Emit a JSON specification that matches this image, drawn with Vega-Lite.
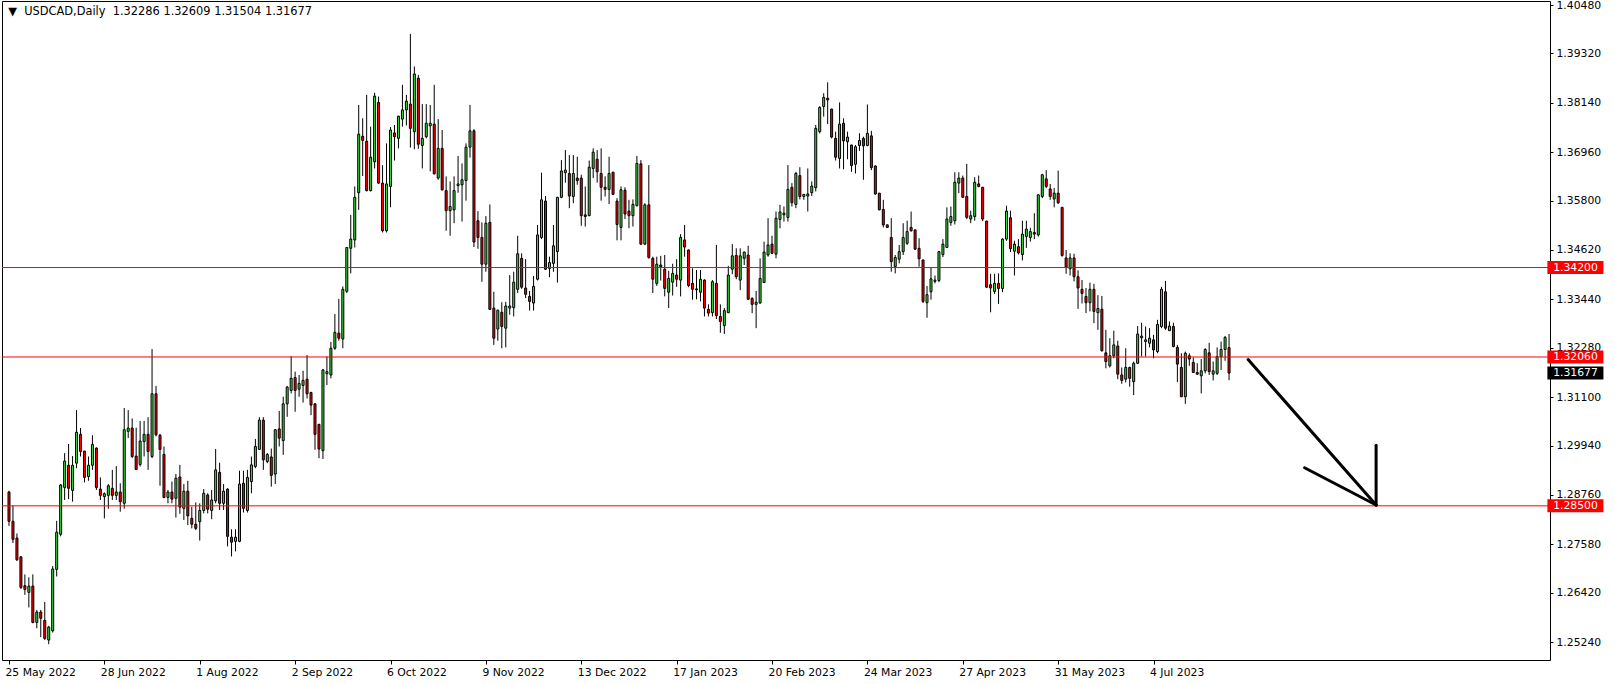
{
  "$schema": "https://vega.github.io/schema/vega-lite/v6.json",
  "autosize": {"type": "none"},
  "padding": {"left": 2, "top": 1, "right": 64, "bottom": 24},
  "width": 1548,
  "height": 659,
  "background": "white",
  "config": {
    "view": {"stroke": "black", "strokeWidth": 1},
    "axis": {"grid": false, "domain": false, "title": null, "labelFont": "DejaVu Sans", "labelFontSize": 10.8, "labelColor": "black", "tickColor": "black", "tickWidth": 1}
  },
  "datasets": {
    "k": [
{"i":0,"o":1.2883,"h":1.2886,"l":1.2802,"c":1.2813},
{"i":1,"o":1.2813,"h":1.2851,"l":1.2761,"c":1.2770},
{"i":2,"o":1.2773,"h":1.2784,"l":1.2718,"c":1.2721},
{"i":3,"o":1.2728,"h":1.2729,"l":1.2651,"c":1.2655},
{"i":4,"o":1.2659,"h":1.2686,"l":1.2637,"c":1.2650},
{"i":5,"o":1.2643,"h":1.2679,"l":1.2607,"c":1.2658},
{"i":6,"o":1.2658,"h":1.2686,"l":1.2569,"c":1.2571},
{"i":7,"o":1.2571,"h":1.2601,"l":1.2557,"c":1.2596},
{"i":8,"o":1.2596,"h":1.2601,"l":1.2536,"c":1.2581},
{"i":9,"o":1.2576,"h":1.2620,"l":1.2529,"c":1.2533},
{"i":10,"o":1.2529,"h":1.2563,"l":1.2519,"c":1.2560},
{"i":11,"o":1.2551,"h":1.2706,"l":1.2547,"c":1.2699},
{"i":12,"o":1.2698,"h":1.2814,"l":1.2681,"c":1.2787},
{"i":13,"o":1.2782,"h":1.2902,"l":1.2777,"c":1.2900},
{"i":14,"o":1.2894,"h":1.2976,"l":1.2864,"c":1.2957},
{"i":15,"o":1.2947,"h":1.2998,"l":1.2866,"c":1.2892},
{"i":16,"o":1.2887,"h":1.2969,"l":1.2860,"c":1.2947},
{"i":17,"o":1.2952,"h":1.3079,"l":1.2940,"c":1.3026},
{"i":18,"o":1.3021,"h":1.3036,"l":1.2968,"c":1.2980},
{"i":19,"o":1.2981,"h":1.2981,"l":1.2906,"c":1.2918},
{"i":20,"o":1.2920,"h":1.2968,"l":1.2910,"c":1.2947},
{"i":21,"o":1.2947,"h":1.3019,"l":1.2936,"c":1.2997},
{"i":22,"o":1.2988,"h":1.2990,"l":1.2888,"c":1.2894},
{"i":23,"o":1.2890,"h":1.2918,"l":1.2864,"c":1.2875},
{"i":24,"o":1.2872,"h":1.2882,"l":1.2820,"c":1.2879},
{"i":25,"o":1.2875,"h":1.2902,"l":1.2843,"c":1.2898},
{"i":26,"o":1.2892,"h":1.2936,"l":1.2864,"c":1.2875},
{"i":27,"o":1.2875,"h":1.2945,"l":1.2864,"c":1.2883},
{"i":28,"o":1.2883,"h":1.2904,"l":1.2836,"c":1.2860},
{"i":29,"o":1.2856,"h":1.3084,"l":1.2843,"c":1.3032},
{"i":30,"o":1.3028,"h":1.3079,"l":1.3012,"c":1.3036},
{"i":31,"o":1.3036,"h":1.3059,"l":1.2964,"c":1.2968},
{"i":32,"o":1.2969,"h":1.3037,"l":1.2936,"c":1.2937},
{"i":33,"o":1.2949,"h":1.3053,"l":1.2944,"c":1.3005},
{"i":34,"o":1.3004,"h":1.3053,"l":1.2968,"c":1.3021},
{"i":35,"o":1.3021,"h":1.3062,"l":1.2936,"c":1.2980},
{"i":36,"o":1.2968,"h":1.3225,"l":1.2964,"c":1.3118},
{"i":37,"o":1.3118,"h":1.3137,"l":1.3016,"c":1.3020},
{"i":38,"o":1.3019,"h":1.3022,"l":1.2898,"c":1.2985},
{"i":39,"o":1.2973,"h":1.2992,"l":1.2868,"c":1.2870},
{"i":40,"o":1.2870,"h":1.2888,"l":1.2856,"c":1.2883},
{"i":41,"o":1.2883,"h":1.2908,"l":1.2856,"c":1.2866},
{"i":42,"o":1.2868,"h":1.2926,"l":1.2822,"c":1.2916},
{"i":43,"o":1.2919,"h":1.2948,"l":1.2831,"c":1.2847},
{"i":44,"o":1.2844,"h":1.2902,"l":1.2816,"c":1.2885},
{"i":45,"o":1.2885,"h":1.2910,"l":1.2804,"c":1.2826},
{"i":46,"o":1.2820,"h":1.2848,"l":1.2796,"c":1.2806},
{"i":47,"o":1.2806,"h":1.2858,"l":1.2792,"c":1.2796},
{"i":48,"o":1.2812,"h":1.2856,"l":1.2767,"c":1.2839},
{"i":49,"o":1.2839,"h":1.2890,"l":1.2832,"c":1.2880},
{"i":50,"o":1.2876,"h":1.2880,"l":1.2832,"c":1.2842},
{"i":51,"o":1.2839,"h":1.2888,"l":1.2818,"c":1.2864},
{"i":52,"o":1.2862,"h":1.2986,"l":1.2856,"c":1.2936},
{"i":53,"o":1.2930,"h":1.2953,"l":1.2840,"c":1.2856},
{"i":54,"o":1.2856,"h":1.2902,"l":1.2840,"c":1.2885},
{"i":55,"o":1.2890,"h":1.2892,"l":1.2753,"c":1.2777},
{"i":56,"o":1.2775,"h":1.2794,"l":1.2729,"c":1.2763},
{"i":57,"o":1.2765,"h":1.2794,"l":1.2741,"c":1.2775},
{"i":58,"o":1.2765,"h":1.2934,"l":1.2763,"c":1.2902},
{"i":59,"o":1.2904,"h":1.2934,"l":1.2834,"c":1.2844},
{"i":60,"o":1.2839,"h":1.2936,"l":1.2834,"c":1.2918},
{"i":61,"o":1.2908,"h":1.2968,"l":1.2880,"c":1.2948},
{"i":62,"o":1.2944,"h":1.3010,"l":1.2940,"c":1.2992},
{"i":63,"o":1.2985,"h":1.3062,"l":1.2984,"c":1.3055},
{"i":64,"o":1.3055,"h":1.3062,"l":1.2936,"c":1.2960},
{"i":65,"o":1.2956,"h":1.2976,"l":1.2952,"c":1.2973},
{"i":66,"o":1.2967,"h":1.2987,"l":1.2896,"c":1.2923},
{"i":67,"o":1.2926,"h":1.3033,"l":1.2902,"c":1.3032},
{"i":68,"o":1.3034,"h":1.3077,"l":1.2992,"c":1.3012},
{"i":69,"o":1.3006,"h":1.3111,"l":1.2972,"c":1.3094},
{"i":70,"o":1.3094,"h":1.3137,"l":1.3063,"c":1.3134},
{"i":71,"o":1.3126,"h":1.3208,"l":1.3119,"c":1.3155},
{"i":72,"o":1.3157,"h":1.3171,"l":1.3075,"c":1.3126},
{"i":73,"o":1.3129,"h":1.3163,"l":1.3111,"c":1.3143},
{"i":74,"o":1.3138,"h":1.3173,"l":1.3097,"c":1.3150},
{"i":75,"o":1.3153,"h":1.3211,"l":1.3107,"c":1.3118},
{"i":76,"o":1.3121,"h":1.3123,"l":1.3067,"c":1.3091},
{"i":77,"o":1.3094,"h":1.3095,"l":1.2984,"c":1.3021},
{"i":78,"o":1.3045,"h":1.3046,"l":1.2964,"c":1.2986},
{"i":79,"o":1.2982,"h":1.3177,"l":1.2962,"c":1.3175},
{"i":80,"o":1.3166,"h":1.3207,"l":1.3139,"c":1.3171},
{"i":81,"o":1.3163,"h":1.3242,"l":1.3155,"c":1.3227},
{"i":82,"o":1.3227,"h":1.3309,"l":1.3223,"c":1.3265},
{"i":83,"o":1.3263,"h":1.3345,"l":1.3245,"c":1.3251},
{"i":84,"o":1.3249,"h":1.3375,"l":1.3227,"c":1.3368},
{"i":85,"o":1.3363,"h":1.3468,"l":1.3359,"c":1.3468},
{"i":86,"o":1.3466,"h":1.3546,"l":1.3406,"c":1.3488},
{"i":87,"o":1.3486,"h":1.3614,"l":1.3468,"c":1.3588},
{"i":88,"o":1.3599,"h":1.3809,"l":1.3558,"c":1.3739},
{"i":89,"o":1.3734,"h":1.3777,"l":1.3639,"c":1.3724},
{"i":90,"o":1.3722,"h":1.3833,"l":1.3602,"c":1.3604},
{"i":91,"o":1.3604,"h":1.3757,"l":1.3602,"c":1.3684},
{"i":92,"o":1.3673,"h":1.3838,"l":1.3657,"c":1.3830},
{"i":93,"o":1.3815,"h":1.3829,"l":1.3620,"c":1.3622},
{"i":94,"o":1.3622,"h":1.3665,"l":1.3504,"c":1.3508},
{"i":95,"o":1.3508,"h":1.3717,"l":1.3504,"c":1.3620},
{"i":96,"o":1.3614,"h":1.3756,"l":1.3564,"c":1.3749},
{"i":97,"o":1.3742,"h":1.3761,"l":1.3676,"c":1.3733},
{"i":98,"o":1.3729,"h":1.3783,"l":1.3705,"c":1.3782},
{"i":99,"o":1.3775,"h":1.3857,"l":1.3757,"c":1.3797},
{"i":100,"o":1.3797,"h":1.3833,"l":1.3760,"c":1.3818},
{"i":101,"o":1.3811,"h":1.3979,"l":1.3707,"c":1.3753},
{"i":102,"o":1.3745,"h":1.3901,"l":1.3703,"c":1.3883},
{"i":103,"o":1.3873,"h":1.3881,"l":1.3704,"c":1.3715},
{"i":104,"o":1.3712,"h":1.3811,"l":1.3657,"c":1.3729},
{"i":105,"o":1.3733,"h":1.3811,"l":1.3729,"c":1.3765},
{"i":106,"o":1.3759,"h":1.3809,"l":1.3650,"c":1.3765},
{"i":107,"o":1.3763,"h":1.3857,"l":1.3643,"c":1.3644},
{"i":108,"o":1.3634,"h":1.3775,"l":1.3630,"c":1.3705},
{"i":109,"o":1.3705,"h":1.3749,"l":1.3604,"c":1.3606},
{"i":110,"o":1.3604,"h":1.3638,"l":1.3508,"c":1.3556},
{"i":111,"o":1.3556,"h":1.3626,"l":1.3496,"c":1.3566},
{"i":112,"o":1.3558,"h":1.3638,"l":1.3526,"c":1.3604},
{"i":113,"o":1.3616,"h":1.3687,"l":1.3599,"c":1.3620},
{"i":114,"o":1.3618,"h":1.3669,"l":1.3530,"c":1.3630},
{"i":115,"o":1.3628,"h":1.3717,"l":1.3580,"c":1.3708},
{"i":116,"o":1.3708,"h":1.3809,"l":1.3683,"c":1.3747},
{"i":117,"o":1.3747,"h":1.3751,"l":1.3469,"c":1.3481},
{"i":118,"o":1.3532,"h":1.3555,"l":1.3465,"c":1.3492},
{"i":119,"o":1.3492,"h":1.3528,"l":1.3386,"c":1.3428},
{"i":120,"o":1.3428,"h":1.3543,"l":1.3410,"c":1.3526},
{"i":121,"o":1.3528,"h":1.3571,"l":1.3319,"c":1.3320},
{"i":122,"o":1.3323,"h":1.3362,"l":1.3235,"c":1.3251},
{"i":123,"o":1.3273,"h":1.3319,"l":1.3245,"c":1.3318},
{"i":124,"o":1.3313,"h":1.3337,"l":1.3227,"c":1.3279},
{"i":125,"o":1.3275,"h":1.3338,"l":1.3229,"c":1.3328},
{"i":126,"o":1.3323,"h":1.3402,"l":1.3307,"c":1.3328},
{"i":127,"o":1.3324,"h":1.3410,"l":1.3303,"c":1.3385},
{"i":128,"o":1.3368,"h":1.3496,"l":1.3359,"c":1.3453},
{"i":129,"o":1.3442,"h":1.3454,"l":1.3369,"c":1.3373},
{"i":130,"o":1.3371,"h":1.3440,"l":1.3347,"c":1.3356},
{"i":131,"o":1.3351,"h":1.3364,"l":1.3317,"c":1.3339},
{"i":132,"o":1.3335,"h":1.3400,"l":1.3317,"c":1.3375},
{"i":133,"o":1.3392,"h":1.3522,"l":1.3389,"c":1.3498},
{"i":134,"o":1.3492,"h":1.3647,"l":1.3488,"c":1.3582},
{"i":135,"o":1.3579,"h":1.3591,"l":1.3414,"c":1.3416},
{"i":136,"o":1.3418,"h":1.3446,"l":1.3397,"c":1.3432},
{"i":137,"o":1.3430,"h":1.3522,"l":1.3410,"c":1.3472},
{"i":138,"o":1.3458,"h":1.3589,"l":1.3384,"c":1.3588},
{"i":139,"o":1.3588,"h":1.3677,"l":1.3586,"c":1.3651},
{"i":140,"o":1.3647,"h":1.3701,"l":1.3623,"c":1.3653},
{"i":141,"o":1.3645,"h":1.3689,"l":1.3562,"c":1.3591},
{"i":142,"o":1.3590,"h":1.3689,"l":1.3574,"c":1.3645},
{"i":143,"o":1.3634,"h":1.3685,"l":1.3618,"c":1.3628},
{"i":144,"o":1.3634,"h":1.3642,"l":1.3520,"c":1.3544},
{"i":145,"o":1.3546,"h":1.3614,"l":1.3518,"c":1.3542},
{"i":146,"o":1.3544,"h":1.3676,"l":1.3543,"c":1.3660},
{"i":147,"o":1.3657,"h":1.3705,"l":1.3634,"c":1.3696},
{"i":148,"o":1.3679,"h":1.3701,"l":1.3623,"c":1.3649},
{"i":149,"o":1.3645,"h":1.3705,"l":1.3580,"c":1.3612},
{"i":150,"o":1.3612,"h":1.3638,"l":1.3590,"c":1.3607},
{"i":151,"o":1.3607,"h":1.3685,"l":1.3572,"c":1.3645},
{"i":152,"o":1.3648,"h":1.3649,"l":1.3594,"c":1.3595},
{"i":153,"o":1.3579,"h":1.3586,"l":1.3485,"c":1.3523},
{"i":154,"o":1.3516,"h":1.3614,"l":1.3485,"c":1.3606},
{"i":155,"o":1.3605,"h":1.3612,"l":1.3536,"c":1.3548},
{"i":156,"o":1.3555,"h":1.3582,"l":1.3514,"c":1.3544},
{"i":157,"o":1.3544,"h":1.3583,"l":1.3518,"c":1.3571},
{"i":158,"o":1.3568,"h":1.3687,"l":1.3566,"c":1.3669},
{"i":159,"o":1.3668,"h":1.3677,"l":1.3474,"c":1.3476},
{"i":160,"o":1.3476,"h":1.3574,"l":1.3474,"c":1.3570},
{"i":161,"o":1.3570,"h":1.3665,"l":1.3441,"c":1.3444},
{"i":162,"o":1.3442,"h":1.3446,"l":1.3359,"c":1.3392},
{"i":163,"o":1.3382,"h":1.3446,"l":1.3376,"c":1.3428},
{"i":164,"o":1.3426,"h":1.3448,"l":1.3389,"c":1.3422},
{"i":165,"o":1.3416,"h":1.3450,"l":1.3351,"c":1.3370},
{"i":166,"o":1.3361,"h":1.3412,"l":1.3323,"c":1.3394},
{"i":167,"o":1.3385,"h":1.3429,"l":1.3353,"c":1.3406},
{"i":168,"o":1.3402,"h":1.3440,"l":1.3374,"c":1.3392},
{"i":169,"o":1.3390,"h":1.3500,"l":1.3351,"c":1.3492},
{"i":170,"o":1.3486,"h":1.3522,"l":1.3446,"c":1.3469},
{"i":171,"o":1.3462,"h":1.3463,"l":1.3373,"c":1.3377},
{"i":172,"o":1.3382,"h":1.3418,"l":1.3343,"c":1.3368},
{"i":173,"o":1.3369,"h":1.3414,"l":1.3344,"c":1.3367},
{"i":174,"o":1.3361,"h":1.3414,"l":1.3339,"c":1.3392},
{"i":175,"o":1.3390,"h":1.3392,"l":1.3303,"c":1.3323},
{"i":176,"o":1.3320,"h":1.3332,"l":1.3303,"c":1.3311},
{"i":177,"o":1.3312,"h":1.3390,"l":1.3303,"c":1.3386},
{"i":178,"o":1.3382,"h":1.3474,"l":1.3297,"c":1.3305},
{"i":179,"o":1.3303,"h":1.3332,"l":1.3264,"c":1.3291},
{"i":180,"o":1.3281,"h":1.3323,"l":1.3261,"c":1.3317},
{"i":181,"o":1.3312,"h":1.3424,"l":1.3311,"c":1.3402},
{"i":182,"o":1.3416,"h":1.3476,"l":1.3404,"c":1.3448},
{"i":183,"o":1.3449,"h":1.3466,"l":1.3392,"c":1.3398},
{"i":184,"o":1.3390,"h":1.3466,"l":1.3366,"c":1.3448},
{"i":185,"o":1.3442,"h":1.3458,"l":1.3426,"c":1.3457},
{"i":186,"o":1.3450,"h":1.3472,"l":1.3343,"c":1.3344},
{"i":187,"o":1.3346,"h":1.3349,"l":1.3311,"c":1.3332},
{"i":188,"o":1.3332,"h":1.3364,"l":1.3275,"c":1.3337},
{"i":189,"o":1.3335,"h":1.3442,"l":1.3334,"c":1.3394},
{"i":190,"o":1.3384,"h":1.3482,"l":1.3383,"c":1.3457},
{"i":191,"o":1.3450,"h":1.3538,"l":1.3446,"c":1.3474},
{"i":192,"o":1.3476,"h":1.3496,"l":1.3452,"c":1.3454},
{"i":193,"o":1.3452,"h":1.3554,"l":1.3442,"c":1.3538},
{"i":194,"o":1.3535,"h":1.3570,"l":1.3514,"c":1.3553},
{"i":195,"o":1.3546,"h":1.3566,"l":1.3530,"c":1.3550},
{"i":196,"o":1.3540,"h":1.3665,"l":1.3530,"c":1.3607},
{"i":197,"o":1.3612,"h":1.3622,"l":1.3566,"c":1.3575},
{"i":198,"o":1.3571,"h":1.3649,"l":1.3562,"c":1.3645},
{"i":199,"o":1.3640,"h":1.3660,"l":1.3583,"c":1.3590},
{"i":200,"o":1.3590,"h":1.3596,"l":1.3582,"c":1.3595},
{"i":201,"o":1.3591,"h":1.3657,"l":1.3554,"c":1.3596},
{"i":202,"o":1.3599,"h":1.3626,"l":1.3591,"c":1.3615},
{"i":203,"o":1.3611,"h":1.3761,"l":1.3602,"c":1.3753},
{"i":204,"o":1.3745,"h":1.3806,"l":1.3741,"c":1.3803},
{"i":205,"o":1.3805,"h":1.3837,"l":1.3781,"c":1.3827},
{"i":206,"o":1.3825,"h":1.3863,"l":1.3763,"c":1.3821},
{"i":207,"o":1.3799,"h":1.3800,"l":1.3729,"c":1.3732},
{"i":208,"o":1.3729,"h":1.3745,"l":1.3676,"c":1.3684},
{"i":209,"o":1.3681,"h":1.3815,"l":1.3657,"c":1.3763},
{"i":210,"o":1.3765,"h":1.3777,"l":1.3655,"c":1.3723},
{"i":211,"o":1.3721,"h":1.3745,"l":1.3679,"c":1.3732},
{"i":212,"o":1.3713,"h":1.3714,"l":1.3649,"c":1.3664},
{"i":213,"o":1.3667,"h":1.3713,"l":1.3645,"c":1.3709},
{"i":214,"o":1.3712,"h":1.3741,"l":1.3699,"c":1.3724},
{"i":215,"o":1.3729,"h":1.3733,"l":1.3630,"c":1.3711},
{"i":216,"o":1.3712,"h":1.3810,"l":1.3710,"c":1.3741},
{"i":217,"o":1.3735,"h":1.3747,"l":1.3653,"c":1.3659},
{"i":218,"o":1.3663,"h":1.3664,"l":1.3594,"c":1.3596},
{"i":219,"o":1.3598,"h":1.3598,"l":1.3557,"c":1.3558},
{"i":220,"o":1.3559,"h":1.3582,"l":1.3516,"c":1.3522},
{"i":221,"o":1.3522,"h":1.3523,"l":1.3515,"c":1.3516},
{"i":222,"o":1.3492,"h":1.3538,"l":1.3410,"c":1.3434},
{"i":223,"o":1.3422,"h":1.3450,"l":1.3406,"c":1.3444},
{"i":224,"o":1.3440,"h":1.3474,"l":1.3430,"c":1.3458},
{"i":225,"o":1.3458,"h":1.3526,"l":1.3450,"c":1.3492},
{"i":226,"o":1.3478,"h":1.3532,"l":1.3474,"c":1.3506},
{"i":227,"o":1.3516,"h":1.3554,"l":1.3506,"c":1.3508},
{"i":228,"o":1.3510,"h":1.3511,"l":1.3462,"c":1.3464},
{"i":229,"o":1.3466,"h":1.3490,"l":1.3422,"c":1.3441},
{"i":230,"o":1.3438,"h":1.3439,"l":1.3335,"c":1.3339},
{"i":231,"o":1.3336,"h":1.3376,"l":1.3300,"c":1.3355},
{"i":232,"o":1.3362,"h":1.3421,"l":1.3343,"c":1.3393},
{"i":233,"o":1.3387,"h":1.3401,"l":1.3382,"c":1.3390},
{"i":234,"o":1.3389,"h":1.3460,"l":1.3385,"c":1.3458},
{"i":235,"o":1.3451,"h":1.3488,"l":1.3445,"c":1.3476},
{"i":236,"o":1.3468,"h":1.3564,"l":1.3467,"c":1.3536},
{"i":237,"o":1.3528,"h":1.3566,"l":1.3520,"c":1.3542},
{"i":238,"o":1.3532,"h":1.3648,"l":1.3523,"c":1.3624},
{"i":239,"o":1.3622,"h":1.3648,"l":1.3598,"c":1.3634},
{"i":240,"o":1.3634,"h":1.3640,"l":1.3587,"c":1.3588},
{"i":241,"o":1.3590,"h":1.3668,"l":1.3536,"c":1.3540},
{"i":242,"o":1.3536,"h":1.3556,"l":1.3526,"c":1.3544},
{"i":243,"o":1.3542,"h":1.3636,"l":1.3532,"c":1.3624},
{"i":244,"o":1.3620,"h":1.3640,"l":1.3612,"c":1.3614},
{"i":245,"o":1.3612,"h":1.3613,"l":1.3531,"c":1.3536},
{"i":246,"o":1.3531,"h":1.3532,"l":1.3371,"c":1.3373},
{"i":247,"o":1.3379,"h":1.3405,"l":1.3313,"c":1.3371},
{"i":248,"o":1.3363,"h":1.3405,"l":1.3357,"c":1.3382},
{"i":249,"o":1.3382,"h":1.3406,"l":1.3333,"c":1.3370},
{"i":250,"o":1.3370,"h":1.3490,"l":1.3361,"c":1.3488},
{"i":251,"o":1.3488,"h":1.3568,"l":1.3484,"c":1.3555},
{"i":252,"o":1.3539,"h":1.3556,"l":1.3457,"c":1.3465},
{"i":253,"o":1.3459,"h":1.3484,"l":1.3401,"c":1.3476},
{"i":254,"o":1.3470,"h":1.3488,"l":1.3451,"c":1.3455},
{"i":255,"o":1.3451,"h":1.3532,"l":1.3437,"c":1.3500},
{"i":256,"o":1.3494,"h":1.3532,"l":1.3467,"c":1.3512},
{"i":257,"o":1.3492,"h":1.3515,"l":1.3482,"c":1.3506},
{"i":258,"o":1.3504,"h":1.3550,"l":1.3488,"c":1.3500},
{"i":259,"o":1.3498,"h":1.3595,"l":1.3494,"c":1.3594},
{"i":260,"o":1.3590,"h":1.3644,"l":1.3586,"c":1.3642},
{"i":261,"o":1.3632,"h":1.3653,"l":1.3610,"c":1.3614},
{"i":262,"o":1.3608,"h":1.3620,"l":1.3582,"c":1.3590},
{"i":263,"o":1.3584,"h":1.3610,"l":1.3564,"c":1.3598},
{"i":264,"o":1.3598,"h":1.3652,"l":1.3572,"c":1.3575},
{"i":265,"o":1.3564,"h":1.3565,"l":1.3446,"c":1.3449},
{"i":266,"o":1.3443,"h":1.3462,"l":1.3405,"c":1.3421},
{"i":267,"o":1.3417,"h":1.3454,"l":1.3401,"c":1.3443},
{"i":268,"o":1.3443,"h":1.3453,"l":1.3387,"c":1.3398},
{"i":269,"o":1.3398,"h":1.3413,"l":1.3321,"c":1.3371},
{"i":270,"o":1.3368,"h":1.3390,"l":1.3334,"c":1.3358},
{"i":271,"o":1.3351,"h":1.3371,"l":1.3311,"c":1.3336},
{"i":272,"o":1.3336,"h":1.3384,"l":1.3315,"c":1.3368},
{"i":273,"o":1.3368,"h":1.3381,"l":1.3287,"c":1.3315},
{"i":274,"o":1.3312,"h":1.3354,"l":1.3271,"c":1.3322},
{"i":275,"o":1.3320,"h":1.3352,"l":1.3219,"c":1.3221},
{"i":276,"o":1.3216,"h":1.3271,"l":1.3179,"c":1.3195},
{"i":277,"o":1.3185,"h":1.3251,"l":1.3181,"c":1.3209},
{"i":278,"o":1.3209,"h":1.3269,"l":1.3203,"c":1.3235},
{"i":279,"o":1.3232,"h":1.3245,"l":1.3153,"c":1.3165},
{"i":280,"o":1.3163,"h":1.3181,"l":1.3142,"c":1.3150},
{"i":281,"o":1.3153,"h":1.3227,"l":1.3145,"c":1.3181},
{"i":282,"o":1.3181,"h":1.3183,"l":1.3135,"c":1.3155},
{"i":283,"o":1.3147,"h":1.3195,"l":1.3115,"c":1.3191},
{"i":284,"o":1.3191,"h":1.3280,"l":1.3189,"c":1.3261},
{"i":285,"o":1.3252,"h":1.3288,"l":1.3207,"c":1.3256},
{"i":286,"o":1.3243,"h":1.3279,"l":1.3207,"c":1.3247},
{"i":287,"o":1.3239,"h":1.3275,"l":1.3229,"c":1.3251},
{"i":288,"o":1.3247,"h":1.3259,"l":1.3203,"c":1.3223},
{"i":289,"o":1.3219,"h":1.3295,"l":1.3215,"c":1.3284},
{"i":290,"o":1.3279,"h":1.3374,"l":1.3275,"c":1.3368},
{"i":291,"o":1.3362,"h":1.3388,"l":1.3271,"c":1.3275},
{"i":292,"o":1.3269,"h":1.3291,"l":1.3268,"c":1.3280},
{"i":293,"o":1.3279,"h":1.3288,"l":1.3229,"c":1.3231},
{"i":294,"o":1.3229,"h":1.3235,"l":1.3146,"c":1.3189},
{"i":295,"o":1.3181,"h":1.3215,"l":1.3110,"c":1.3111},
{"i":296,"o":1.3111,"h":1.3219,"l":1.3094,"c":1.3215},
{"i":297,"o":1.3209,"h":1.3215,"l":1.3185,"c":1.3201},
{"i":298,"o":1.3193,"h":1.3205,"l":1.3169,"c":1.3169},
{"i":299,"o":1.3169,"h":1.3191,"l":1.3163,"c":1.3165},
{"i":300,"o":1.3161,"h":1.3201,"l":1.3119,"c":1.3173},
{"i":301,"o":1.3173,"h":1.3227,"l":1.3167,"c":1.3224},
{"i":302,"o":1.3216,"h":1.3240,"l":1.3163,"c":1.3171},
{"i":303,"o":1.3165,"h":1.3195,"l":1.3150,"c":1.3173},
{"i":304,"o":1.3167,"h":1.3229,"l":1.3163,"c":1.3207},
{"i":305,"o":1.3207,"h":1.3243,"l":1.3175,"c":1.3224},
{"i":306,"o":1.3224,"h":1.3256,"l":1.3197,"c":1.3253},
{"i":307,"o":1.32286,"h":1.32609,"l":1.31504,"c":1.31677}
    ],
    "lv": [
      {"p": 1.342, "t": "1.34200", "k": "level"},
      {"p": 1.3206, "t": "1.32060", "k": "level"},
      {"p": 1.285, "t": "1.28500", "k": "level"},
      {"p": 1.31677, "t": "1.31677", "k": "bid"}
    ],
    "ar": [
      {"x": 311.8, "y": 1.3200, "x2": 344.0, "y2": 1.2852},
      {"x": 344.0, "y": 1.2995, "x2": 344.0, "y2": 1.2852},
      {"x": 326.0, "y": 1.2941, "x2": 344.0, "y2": 1.2852}
    ],
    "hd": [
      {"t": "▼\u00a0\u00a0USDCAD,Daily\u00a0\u00a01.32286 1.32609 1.31504 1.31677"}
    ]
  },
  "layer": [
    {
      "data": {"name": "k"},
      "mark": {"type": "rule", "color": "black", "strokeWidth": 1},
      "encoding": {
        "x": {"field": "i", "type": "quantitative",
              "scale": {"domain": [-0.5, 386.5], "nice": false, "zero": false},
              "axis": {"orient": "bottom", "values": [0,24,48,72,96,120,144,168,192,216,240,264,288],
                       "labelExpr": "['25 May 2022','28 Jun 2022','1 Aug 2022','2 Sep 2022','6 Oct 2022','9 Nov 2022','13 Dec 2022','17 Jan 2023','20 Feb 2023','24 Mar 2023','27 Apr 2023','31 May 2023','4 Jul 2023'][round(datum.value/24)]",
                       "labelAlign": "left", "labelBaseline": "top", "labelPadding": 2, "labelOffset": -4, "tickSize": 4, "labelFlush": false, "labelOverlap": false, "labelBound": false}},
        "y": {"field": "l", "type": "quantitative",
              "scale": {"domain": [1.248124, 1.405757], "nice": false, "zero": false},
              "axis": {"orient": "right", "values": [1.4048,1.3932,1.3814,1.3696,1.358,1.3462,1.3344,1.3228,1.311,1.2994,1.2876,1.2758,1.2642,1.2524],
                       "format": ".5f", "tickSize": 3, "labelPadding": 3, "labelBaseline": "middle", "labelAlign": "left", "labelOverlap": false, "labelFlush": false, "labelBound": false}},
        "y2": {"field": "h"}
      }
    },
    {
      "data": {"name": "k"},
      "mark": {"type": "bar", "width": 2, "stroke": "black", "strokeWidth": 1},
      "encoding": {
        "x": {"field": "i", "type": "quantitative"},
        "y": {"field": "o", "type": "quantitative"},
        "y2": {"field": "c"},
        "fill": {"condition": {"test": "datum.c >= datum.o", "value": "#3cdc3c"}, "value": "#ff0000"}
      }
    },
    {
      "data": {"name": "lv"},
      "transform": [{"filter": "datum.k == 'level'"}],
      "mark": {"type": "rule", "color": "#ff0000", "strokeWidth": 1},
      "encoding": {"y": {"field": "p", "type": "quantitative"}}
    },
    {
      "data": {"name": "ar"},
      "mark": {"type": "rule", "color": "black", "strokeWidth": 3, "strokeCap": "round"},
      "encoding": {
        "x": {"field": "x", "type": "quantitative"},
        "y": {"field": "y", "type": "quantitative"},
        "x2": {"field": "x2"},
        "y2": {"field": "y2"}
      }
    },
    {
      "data": {"name": "lv"},
      "mark": {"type": "rule", "strokeWidth": 13, "strokeCap": "butt"},
      "encoding": {
        "x": {"datum": 387.1, "type": "quantitative"},
        "x2": {"datum": 401.2},
        "y": {"field": "p", "type": "quantitative"},
        "color": {"field": "k", "type": "nominal", "scale": {"domain": ["level", "bid"], "range": ["#ff0000", "#000000"]}, "legend": null}
      }
    },
    {
      "data": {"name": "lv"},
      "mark": {"type": "text", "align": "left", "baseline": "middle", "font": "DejaVu Sans", "fontSize": 10.8, "color": "white"},
      "encoding": {
        "x": {"datum": 388.55, "type": "quantitative"},
        "y": {"field": "p", "type": "quantitative"},
        "text": {"field": "t"}
      }
    },
    {
      "data": {"name": "hd"},
      "mark": {"type": "text", "align": "left", "baseline": "middle", "font": "DejaVu Sans", "fontSize": 11.4, "color": "black"},
      "encoding": {
        "x": {"datum": -0.2, "type": "quantitative"},
        "y": {"datum": 1.40313, "type": "quantitative"},
        "text": {"field": "t"}
      }
    }
  ]
}
